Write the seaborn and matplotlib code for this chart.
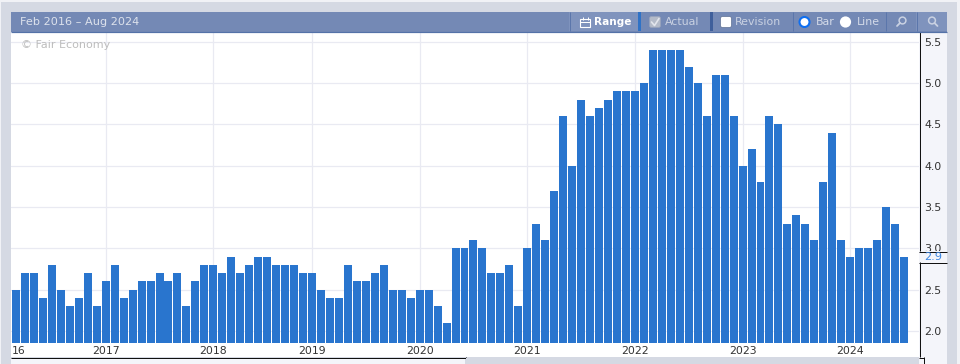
import matplotlib
matplotlib.use("Agg")
import matplotlib.pyplot as plt
from matplotlib.patches import Rectangle, Circle, FancyBboxPatch
import seaborn as sns
import pandas as pd

# --- data ---
values = [2.5, 2.7, 2.7, 2.4, 2.8, 2.5, 2.3, 2.4, 2.7, 2.3, 2.6, 2.8,
          2.4, 2.5, 2.6, 2.6, 2.7, 2.6, 2.7, 2.3, 2.6, 2.8, 2.8, 2.7,
          2.9, 2.7, 2.8, 2.9, 2.9, 2.8, 2.8, 2.8, 2.7, 2.7, 2.5, 2.4,
          2.4, 2.8, 2.6, 2.6, 2.7, 2.8, 2.5, 2.5, 2.4, 2.5, 2.5, 2.3,
          2.1, 3.0, 3.0, 3.1, 3.0, 2.7, 2.7, 2.8, 2.3, 3.0, 3.3, 3.1,
          3.7, 4.6, 4.0, 4.8, 4.6, 4.7, 4.8, 4.9, 4.9, 4.9, 5.0, 5.4,
          5.4, 5.4, 5.4, 5.2, 5.0, 4.6, 5.1, 5.1, 4.6, 4.0, 4.2, 3.8,
          4.6, 4.5, 3.3, 3.4, 3.3, 3.1, 3.8, 4.4, 3.1, 2.9, 3.0, 3.0,
          3.1, 3.5, 3.3, 2.9]
bar_index = list(range(len(values)))
year_labels = ["2017", "2018", "2019", "2020", "2021", "2022", "2023", "2024"]
year_bars = [10, 22, 33, 45, 57, 69, 81, 93]
y_ticks = [2.0, 2.5, 3.0, 3.5, 4.0, 4.5, 5.0, 5.5]
y_labels = ["2.0", "2.5", "3.0", "3.5", "4.0", "4.5", "5.0", "5.5"]
last_label = "2.9"
title = "Feb 2016 \u2013 Aug 2024"
credit = "\u00a9 Fair Economy"

W, H = 960, 364
GRAY = "#D5D9E3"; PANEL = "#F4F5FA"; HEAD = "#7489B5"; HEAD2 = "#7F93BD"
BAR = "#2975CE"; GRID = "#E9EAF2"; LINE = "#111111"

sns.set_theme(style="white")
plt.rcParams["font.family"] = ["DejaVu Sans"]
fig = plt.figure(figsize=(W / 100, H / 100), dpi=100, facecolor=GRAY)


def pixel_axes(z):
    a = fig.add_axes([0, 0, 1, 1], zorder=z)
    a.set_xlim(0, W); a.set_ylim(H, 0); a.axis("off"); a.patch.set_alpha(0)
    return a


def box(a, x0, y0, x1, y1, c, **k):
    a.add_patch(Rectangle((x0, y0), x1 - x0, y1 - y0, fc=c, ec="none", lw=0, **k))


def hline(a, x0, x1, y, c=LINE, lw=1.0):
    a.plot([x0, x1], [y, y], color=c, lw=lw * 0.72, solid_capstyle="butt")


def vline(a, x, y0, y1, c=LINE, lw=1.0):
    a.plot([x, x], [y0, y1], color=c, lw=lw * 0.72, solid_capstyle="butt")


# --- background chrome ---
bg = pixel_axes(0)
box(bg, 0, 0, W, 2, "#F1F2F6")
box(bg, 0, 0, 1, H, "#F1F2F6")
box(bg, 957, 0, W, H, "#F1F2F6")
box(bg, 11, 32, 919, 357, "white")
box(bg, 919, 32, 947, H, PANEL)
box(bg, 11, 358, 465, H, PANEL)
hline(bg, 11, 466, 357.5)
vline(bg, 465.5, 357, H)

# --- chart ---
L, R, T, B = 11, 919, 32, 342.7
ax = fig.add_axes([L / W, 1 - B / H, (R - L) / W, (B - T) / H], zorder=1)
df = pd.DataFrame({"bar": bar_index, "value": values})
sns.barplot(data=df, x="bar", y="value", color=BAR, saturation=1, width=0.89,
            ax=ax, errorbar=None, zorder=3, linewidth=0)
ax.set_xlim(-0.557, 100.67)
ax.set_ylim(1.858, 5.62)
ax.set_xlabel(""); ax.set_ylabel("")
ax.set_xticks(year_bars, year_labels, fontsize=7.8, color="#333333")
ax.set_yticks(y_ticks, y_labels, fontsize=7.9, color="#333333")
ax.yaxis.tick_right()
ax.tick_params(axis="both", length=0)
ax.tick_params(axis="x", pad=2.5)
ax.tick_params(axis="y", pad=4)
ax.grid(True, color=GRID, lw=0.9)
ax.set_axisbelow(True)
for s in ax.spines.values():
    s.set_visible(False)
ax.patch.set_alpha(0)
ax.text(21 / W, 1 - 45 / H, credit, transform=fig.transFigure, fontsize=8.0,
        color="#BDBDBD", va="center", ha="left", zorder=1)

# --- overlay chrome ---
top = pixel_axes(2)
box(top, 1, 2, 11, H, GRAY)
top.text(12, 350.6, "16", fontsize=7.8, color="#333333", ha="left", va="center")

# axis rule with a gap for the last-value label
vline(top, 919.5, 32, 251)
vline(top, 919.5, 262, 357)
hline(top, 919, 924, 357.5)
vline(top, 924, 357, H)
box(top, 919, 251, 947, 262, PANEL)
hline(top, 919, 947, 251.5)
hline(top, 919, 947, 262.5)
top.text(933, 256.8, last_label, fontsize=8.2, color="#3F88E2", ha="center", va="center")
box(top, 466, 358, 919, H, GRAY)
box(top, 924, 358, 947, H, PANEL)

# header bar
box(top, 11, 12, 947, 32, HEAD)
hline(top, 11, 947, 31.5, "#5472A8", 1.2)
top.text(20, 22, title, fontsize=8.1, color="#DDE2EC", ha="left", va="center", fontweight="medium")
box(top, 569, 12, 638, 31, HEAD2)
box(top, 638, 12, 641, 31, "#2F72C6")
box(top, 710, 12, 713, 31, "#3F5F9B")
box(top, 916, 12, 947, 31, HEAD2)
for x in [569, 792, 885, 916]:
    vline(top, x + .5, 12, 31, "#5B76AB")

# Range
top.add_patch(Rectangle((580, 19), 9.5, 7.5, fc="none", ec="white", lw=0.8))
hline(top, 580, 590, 22, "white", 1)
vline(top, 582.5, 17, 20, "white", 1)
vline(top, 587.5, 17, 20, "white", 1)
top.text(594, 22, "Range", fontsize=7.6, fontweight="bold", color="white", ha="left", va="center")
# Actual
top.add_patch(FancyBboxPatch((650, 17), 10, 10, boxstyle="round,pad=0.5,rounding_size=2",
                             fc="#B4BBC9", ec="#98A3BC", lw=0.5))
top.plot([651.5, 654.5, 659], [22, 25.5, 18.5], color="#E2E5EC", lw=1.2)
top.text(665, 22, "Actual", fontsize=7.9, color="#C9D1E2", ha="left", va="center")
# Revision
top.add_patch(FancyBboxPatch((721, 17), 10, 10, boxstyle="round,pad=0.5,rounding_size=2",
                             fc="white", ec="#5D6E92", lw=0.5))
top.text(735, 22, "Revision", fontsize=7.9, color="#C9D1E2", ha="left", va="center")
# Radios
top.add_patch(Circle((804.5, 22), 5.0, fc="white", ec="#0F6FF0", lw=1.5))
top.text(816, 22, "Bar", fontsize=7.9, color="#D3DAE8", ha="left", va="center")
top.add_patch(Circle((845.5, 22), 5.6, fc="white", ec="none"))
top.text(857, 22, "Line", fontsize=7.9, color="#D3DAE8", ha="left", va="center")
# Zoom icons
top.add_patch(Circle((902.5, 20.5), 3.4, fc="none", ec="#C9D1E2", lw=1.1))
top.plot([900, 897], [23, 26], color="#C9D1E2", lw=1.3)
top.add_patch(Circle((932, 20.5), 3.4, fc="none", ec="#C9D1E2", lw=1.1))
top.plot([934.5, 937.5], [23, 26], color="#C9D1E2", lw=1.3)

fig.savefig("out.png", dpi=100, facecolor=GRAY)
